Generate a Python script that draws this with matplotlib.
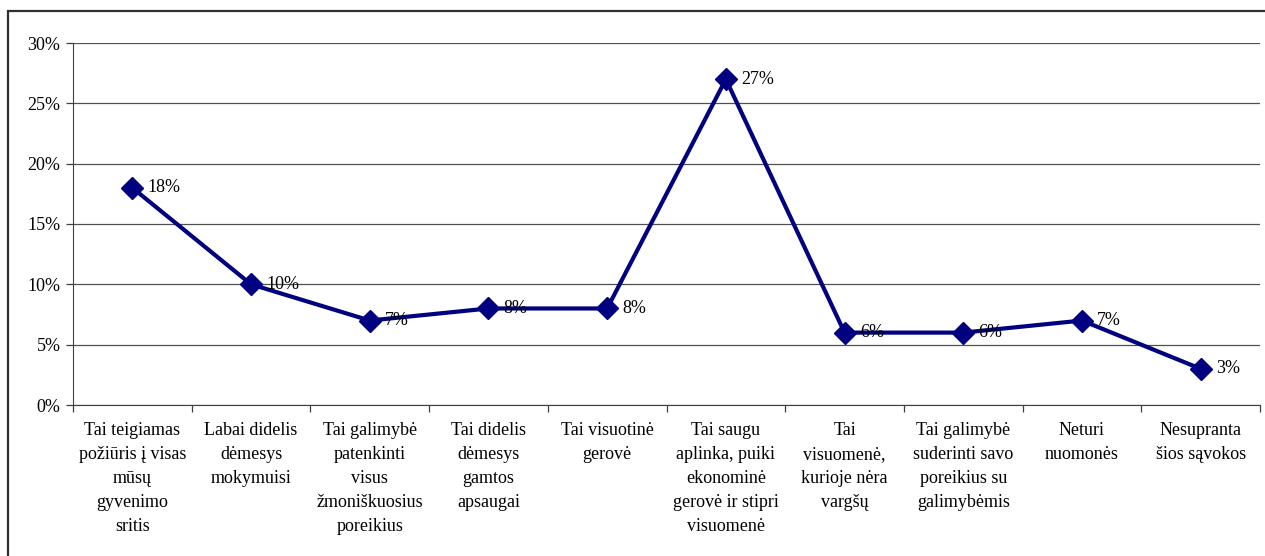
import matplotlib.pyplot as plt
from matplotlib.patches import Rectangle
from matplotlib.ticker import FuncFormatter

categories = [
    "Tai teigiamas\npožiūris į visas\nmūsų\ngyvenimo\nsritis",
    "Labai didelis\ndėmesys\nmokymuisi",
    "Tai galimybė\npatenkinti\nvisus\nžmoniškuosius\nporeikius",
    "Tai didelis\ndėmesys\ngamtos\napsaugai",
    "Tai visuotinė\ngerovė",
    "Tai saugu\naplinka, puiki\nekonominė\ngerovė ir stipri\nvisuomenė",
    "Tai\nvisuomenė,\nkurioje nėra\nvargšų",
    "Tai galimybė\nsuderinti savo\nporeikius su\ngalimybėmis",
    "Neturi\nnuomonės",
    "Nesupranta\nšios sąvokos",
]
values = [18, 10, 7, 8, 8, 27, 6, 6, 7, 3]
y_ticks = [0, 5, 10, 15, 20, 25, 30]

plt.rcParams['font.family'] = ['Liberation Serif', 'DejaVu Serif']
fs = 13

fig = plt.figure(figsize=(12.65, 5.56), dpi=100)
ax = fig.add_axes([73 / 1265, 1 - 405 / 556, 1187 / 1265, 362 / 556])

x = list(range(len(values)))
ax.plot(x, values, color='#000080', linewidth=3, marker='D',
        markersize=11, zorder=3, clip_on=False)

# value labels to the right of each point
for xi, v in zip(x, values):
    ax.annotate(f"{v}%", (xi, v), xytext=(11, 0), textcoords='offset points',
                va='center', ha='left', fontsize=fs, color='black', zorder=4)

ax.set_xlim(-0.5, len(values) - 0.5)
ax.set_ylim(0, 30)
ax.set_yticks(y_ticks)
ax.yaxis.set_major_formatter(FuncFormatter(lambda v, p: f"{v:.0f}%"))
ax.grid(axis='y', color='#505050', linewidth=0.9)
ax.set_axisbelow(True)

# category boundaries as ticks, labels at centres
ax.set_xticks([i - 0.5 for i in range(len(values) + 1)])
ax.set_xticklabels([])
ax.set_xticks(x, minor=True)
ax.set_xticklabels(categories, minor=True, fontsize=fs, linespacing=1.55)
ax.tick_params(axis='x', which='minor', length=0, pad=12)
ax.tick_params(axis='x', which='major', length=5, width=0.9, color='#404040')
ax.tick_params(axis='y', length=5, width=0.9, color='#404040', labelsize=fs, pad=4)

for s in ['top', 'right']:
    ax.spines[s].set_visible(False)
ax.spines['left'].set_color('#404040')
ax.spines['bottom'].set_color('#404040')

# outer border
fig.patches.append(Rectangle((8 / 1265, -0.05), 1.1, 1 - 11 / 556 + 0.05,
                             transform=fig.transFigure, fill=False,
                             edgecolor='#303030', linewidth=1.6))

fig.savefig("out.png", dpi=100)
